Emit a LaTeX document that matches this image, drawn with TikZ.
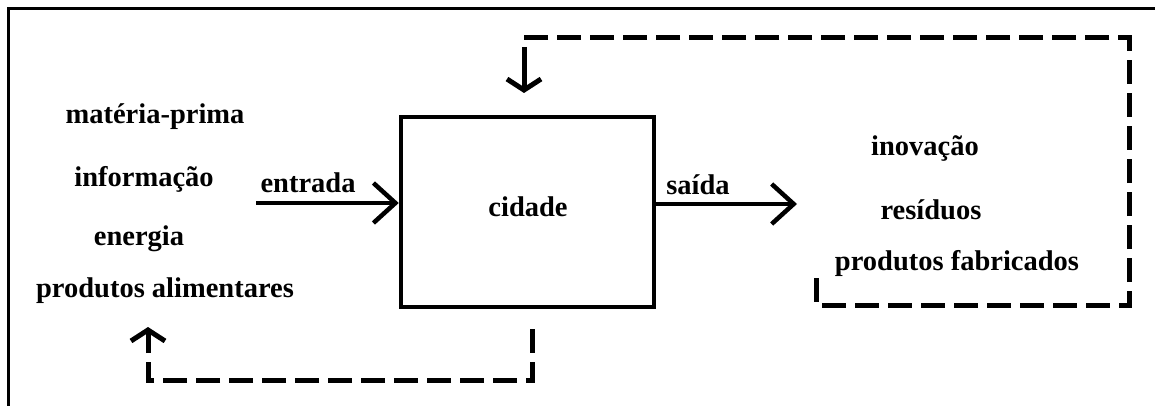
\documentclass[tikz,border=0pt]{standalone}
\usepackage{fontspec}
\setmainfont{Liberation Serif}
\usetikzlibrary{arrows.meta}
\begin{document}
\begin{tikzpicture}[x=1pt,y=-1pt,
  lbl/.style={font=\fontsize{28.5}{34}\selectfont\bfseries, anchor=base, inner sep=0pt},
  cityshape/.style={draw, line width=4.5pt, minimum width=253pt, minimum height=190pt, inner sep=0pt},
  flow/.style={line width=4.5pt, -{Straight Barb[length=22pt,width=40pt]}},
  fbloop/.style={line width=5pt, dash pattern=on 24pt off 9pt},
  fbtip/.style={line width=5pt, -{Straight Barb[length=11pt,width=34pt]}},
  frameline/.style={line width=3pt}
]
\useasboundingbox (0,0) rectangle (1155,406);

% partial outer frame
\coordinate (frBL) at (8.5,410);
\coordinate (frTL) at (8.5,8.5);
\coordinate (frTR) at (1160,8.5);
\draw[frameline] (frBL) -- (frTL) -- (frTR);

% city box
\node[cityshape] (city) at (527.5,212) {};
\node[lbl] (citylbl) at (528,216) {cidade};

% inputs
\node[lbl] (in1) at (155,124) {matéria-prima};
\node[lbl] (in2) at (144,186) {informação};
\node[lbl] (in3) at (139,245) {energia};
\node[lbl] (in4) at (165,297) {produtos alimentares};

% outputs
\node[lbl] (out1) at (925,156) {inovação};
\node[lbl] (out2) at (931,219) {resíduos};
\node[lbl] (out3) at (957,270) {produtos fabricados};

% entrada
\coordinate (ein) at (256,203);
\draw[flow] (ein) -- (ein -| city.west);
\node[lbl] (entlbl) at (308,192) {entrada};

% saida
\coordinate (sout) at (797,204);
\draw[flow] (sout -| city.east) -- (sout);
\node[lbl] (sailbl) at (698,194) {saída};

% feedback loop top (outputs back to city)
\coordinate (t0) at (816,278);
\coordinate (t1) at (816,305);
\coordinate (t2) at (1129,305);
\coordinate (t3) at (1129,38);
\coordinate (t4) at (524,38);
\coordinate (tstub) at (524,62);
\coordinate (ttip) at (524,93);
\draw[fbloop] (t0) -- (t1) -- (t2) -- (t3) -- (t4) -- (tstub);
\draw[fbtip] (tstub) -- (ttip);

% feedback loop bottom (city back to inputs)
\coordinate (b0) at (532,329);
\coordinate (b1) at (532,380);
\coordinate (b2) at (148,380);
\coordinate (bstub) at (148,352);
\coordinate (btip) at (148,327);
\draw[fbloop] (b0) -- (b1) -- (b2) -- (bstub);
\draw[fbtip] (bstub) -- (btip);
\end{tikzpicture}
\end{document}
